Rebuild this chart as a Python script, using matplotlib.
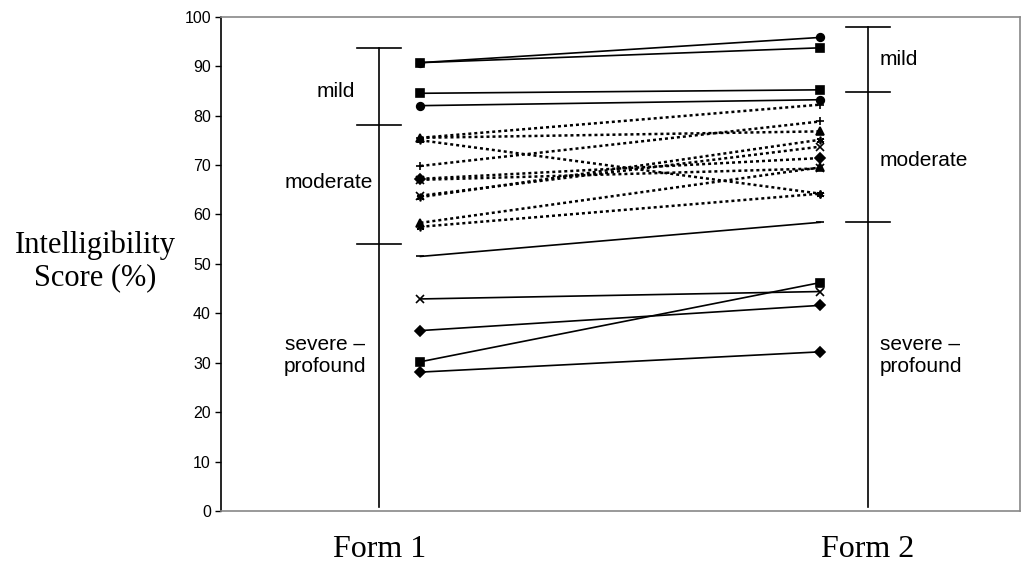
import matplotlib
matplotlib.use("Agg")
import matplotlib.pyplot as plt

# solid lines: subjects whose scores sit in the mild or severe ranges
solid_form1 = [90.7, 90.7, 84.5, 82.0, 51.5, 42.9, 36.5, 30.2, 28.1]
solid_form2 = [95.8, 93.7, 85.2, 83.2, 58.4, 44.4, 41.6, 46.2, 32.2]
solid_markers = ['o', 's', 's', 'o', '_', 'x', 'D', 's', 'D']

# dotted lines: subjects in the moderate range
dotted_form1 = [75.5, 75.5, 75.0, 69.8, 67.2, 67.0, 63.8, 63.5, 58.3, 57.5]
dotted_form2 = [76.8, 82.2, 64.2, 78.8, 71.4, 69.3, 73.7, 75.1, 69.5, 64.2]
dotted_markers = ['^', '+', (6, 2, 0), '+', 'D', 'x', 'x', (6, 2, 0), '^', (6, 2, 0)]

# severity band boundaries per form
bands_form1 = [0.8, 54.0, 78.0, 93.7]
bands_form2 = [0.8, 58.4, 84.8, 98.0]
band_names = ['severe –\nprofound', 'moderate', 'mild']

forms = ['Form 1', 'Form 2']
y_ticks = list(range(0, 101, 10))

fig = plt.figure(figsize=(10.25, 5.69), dpi=100)
ax = fig.add_axes([0.2153, 0.1019, 0.7797, 0.8688])
ax.set_xlim(0.5, 2.5)
ax.set_ylim(0, 100)

x1, x2 = 1.0, 2.0
for a, b, m in zip(solid_form1, solid_form2, solid_markers):
    ax.plot([x1, x2], [a, b], color='black', lw=1.2, marker=m, ms=5.5,
            mew=1.2, mfc='black', mec='black')
for a, b, m in zip(dotted_form1, dotted_form2, dotted_markers):
    ax.plot([x1, x2], [a, b], color='black', lw=1.8, ls=(0, (1.2, 1.2)),
            marker=m, ms=5.5, mew=1.2, mfc='black', mec='black')

# range bars with severity labels
bar_x = [0.897, 2.119]
half_w = 0.055
for bx, bands in zip(bar_x, [bands_form1, bands_form2]):
    ax.plot([bx, bx], [bands[0], bands[-1]], color='black', lw=1.2)
    for v in bands[1:]:
        ax.plot([bx - half_w, bx + half_w], [v, v], color='black', lw=1.2)

lab_font = dict(family=['Liberation Sans', 'DejaVu Sans'], fontsize=15)
ax.text(0.787, 84.8, band_names[2], ha='center', va='center', **lab_font)
ax.text(0.77, 66.4, band_names[1], ha='center', va='center', **lab_font)
ax.text(0.76, 31.5, band_names[0], ha='center', va='center',
        linespacing=1.2, **lab_font)
ax.text(2.15, 91.3, band_names[2], ha='left', va='center', **lab_font)
ax.text(2.15, 71.0, band_names[1], ha='left', va='center', **lab_font)
ax.text(2.15, 31.5, band_names[0], ha='left', va='center',
        linespacing=1.2, **lab_font)

ax.set_yticks(y_ticks)
ax.set_yticklabels([str(t) for t in y_ticks], family='Liberation Sans', fontsize=11.5)
ax.tick_params(axis='y', direction='out', length=4, width=1, pad=3)
ax.set_xticks([])
for side in ['top', 'right', 'bottom']:
    ax.spines[side].set_color('#888888')
    ax.spines[side].set_linewidth(1.2)
ax.spines['left'].set_color('black')
ax.spines['left'].set_linewidth(1.2)

for bx, name in zip(bar_x, forms):
    ax.text(bx, -7.7, name, ha='center', va='center', family='Liberation Serif',
            fontsize=23)

fig.text(0.093, 0.54, 'Intelligibility\nScore (%)', ha='center', va='center',
         family='Liberation Serif', fontsize=22, linespacing=1.15)

fig.savefig('out.png', dpi=100)
